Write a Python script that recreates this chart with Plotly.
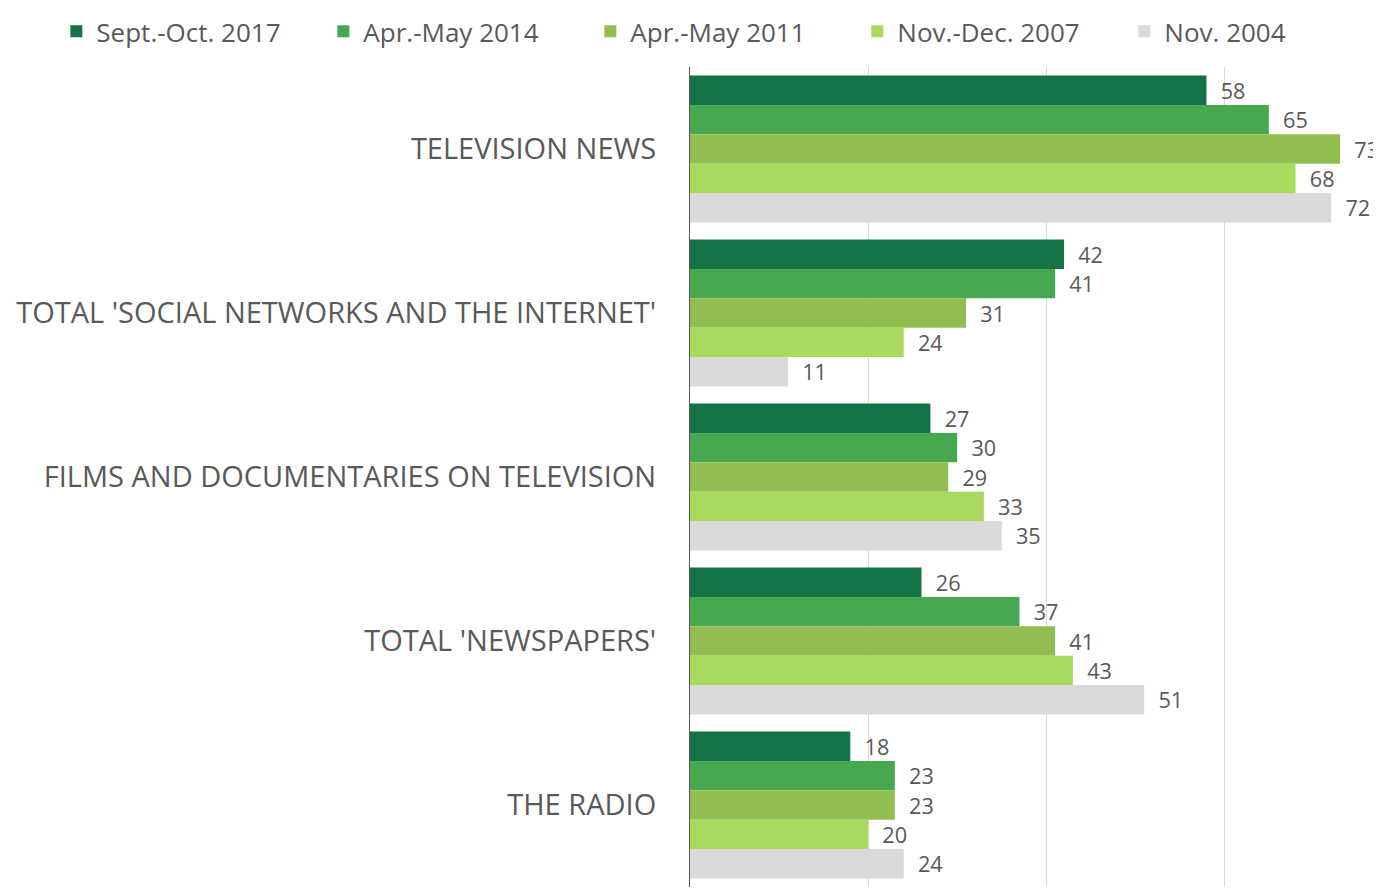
import plotly.graph_objects as go

categories = ["TELEVISION NEWS", "TOTAL 'SOCIAL NETWORKS AND THE INTERNET'",
              "FILMS AND DOCUMENTARIES ON TELEVISION", "TOTAL 'NEWSPAPERS'", "THE RADIO"]
series_names = ["Sept.-Oct. 2017", "Apr.-May 2014", "Apr.-May 2011", "Nov.-Dec. 2007", "Nov. 2004"]
sept_oct_2017 = [58, 42, 27, 26, 18]
apr_may_2014 = [65, 41, 30, 37, 23]
apr_may_2011 = [73, 31, 29, 41, 23]
nov_dec_2007 = [68, 24, 33, 43, 20]
nov_2004 = [72, 11, 35, 51, 24]
colors = ["#147446", "#47A94F", "#92BD50", "#A8DA5E", "#D9D9D9"]

values = [sept_oct_2017, apr_may_2014, apr_may_2011, nov_dec_2007, nov_2004]

fig = go.Figure()
for name, vals, col in zip(series_names, values, colors):
    fig.add_trace(go.Bar(
        y=categories, x=vals, name=name, orientation="h",
        marker=dict(color=col, line=dict(width=0)),
        text=[f"  {v}" for v in vals], textposition="outside",
        textfont=dict(color="#595959", size=28, family="Open Sans"),
        cliponaxis=False,
    ))

fig.update_layout(
    width=1381, height=888,
    barmode="group", bargap=0.104, bargroupgap=0,
    margin=dict(l=682, r=8, t=59, b=9, autoexpand=False),
    paper_bgcolor="white", plot_bgcolor="white",
    font=dict(family="Open Sans", color="#595959", size=28),
    legend=dict(orientation="h",
                x=-0.917, y=1.072, xanchor="left", yanchor="top",
                font=dict(size=26, color="#595959"), traceorder="normal",
                itemwidth=30, entrywidth=222, bgcolor="rgba(0,0,0,0)"),
    uniformtext=dict(mode=False),
)
fig.update_xaxes(range=[0, 77.6], showgrid=True, gridcolor="#D9D9D9", gridwidth=1,
                 dtick=20, showticklabels=False, zeroline=False, showline=False)
fig.update_yaxes(autorange="reversed", showline=True, linecolor="#595959", linewidth=1,
                 ticks="", ticklabelstandoff=27, showgrid=False,
                 tickfont=dict(size=29, color="#595959"))

fig.write_html("out.html")
